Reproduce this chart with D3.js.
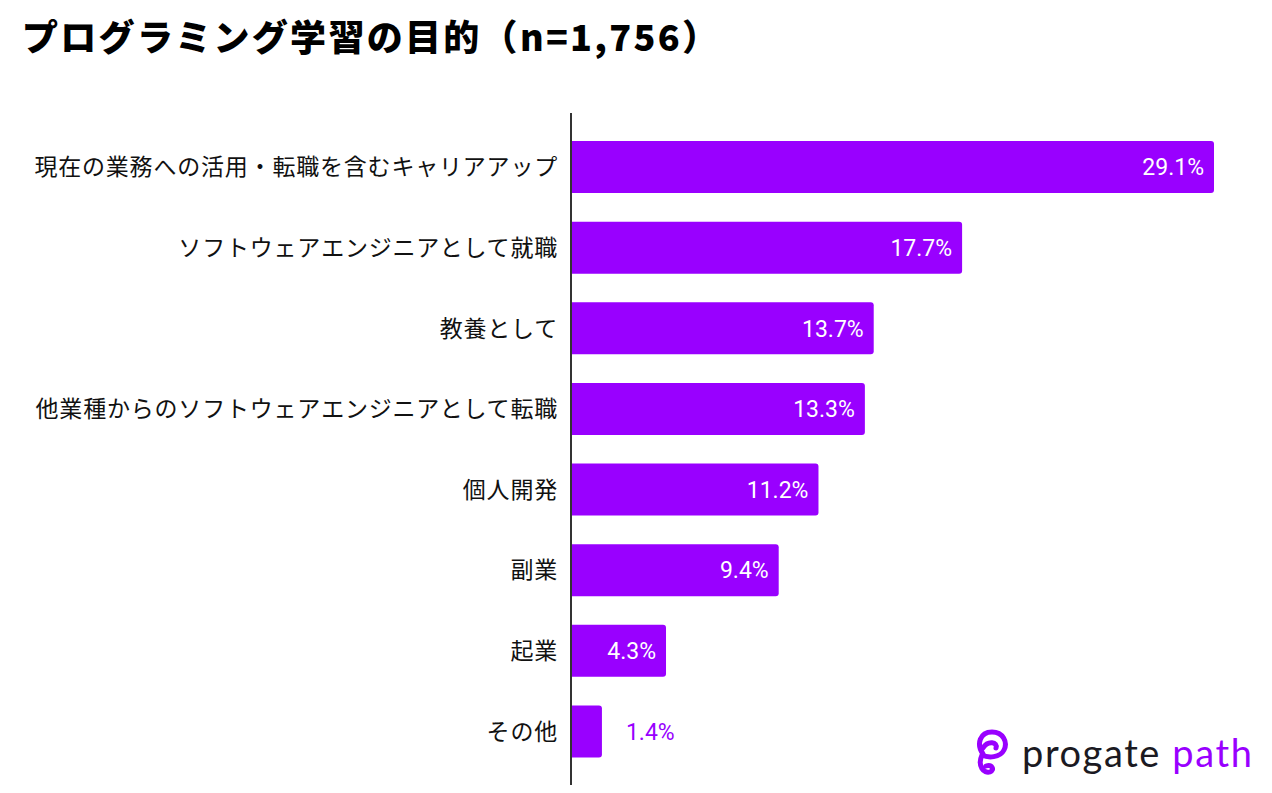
<!DOCTYPE html>
<html>
<head>
<meta charset="utf-8">
<script src="https://cdn.jsdelivr.net/npm/d3@7"></script>
<style>
  body { margin: 0; background: #fff; }
  svg { display: block; }
</style>
</head>
<body>
<svg id="chart" width="1272" height="793"></svg>
<script>
// data
const categories = [
  "現在の業務への活用・転職を含むキャリアアップ",
  "ソフトウェアエンジニアとして就職",
  "教養として",
  "他業種からのソフトウェアエンジニアとして転職",
  "個人開発",
  "副業",
  "起業",
  "その他"
]
const values = [29.1, 17.7, 13.7, 13.3, 11.2, 9.4, 4.3, 1.4]
const titleText = "プログラミング学習の目的（n=1,756）"

const purple = "#9900ff"
const jp = "'Noto Sans CJK JP', 'Noto Sans', sans-serif"

let svg = d3.select("#chart")

const x = d3.scaleLinear()
    .domain([0, 29.1])
    .range([571, 1214])

const y = d3.scaleBand()
    .domain(categories)
    .range([126.7, 771.8])
    .paddingInner(0.355)
    .paddingOuter(0.1775)

// title
svg.append("text")
    .attr("x", 22)
    .attr("y", 51)
    .style("font-family", jp)
    .style("font-weight", 900)
    .style("font-size", "36px")
    .style("letter-spacing", "2.3px")
    .style("fill", "#000")
    .text(titleText)

// bars, square on the left, rounded on the right
const r = 3
let bars = svg.append("g")
    .selectAll("path")
    .data(values)
    .join("path")
    .attr("d", function (d, i) {
        let x0 = x(0), x1 = x(d), y0 = y(categories[i]), h = y.bandwidth()
        return "M" + x0 + "," + y0 +
            "H" + (x1 - r) +
            "Q" + x1 + "," + y0 + " " + x1 + "," + (y0 + r) +
            "V" + (y0 + h - r) +
            "Q" + x1 + "," + (y0 + h) + " " + (x1 - r) + "," + (y0 + h) +
            "H" + x0 + "Z"
    })
    .style("fill", purple)

// category labels
svg.append("g")
    .selectAll("text")
    .data(categories)
    .join("text")
    .attr("x", 558)
    .attr("y", d => y(d) + y.bandwidth() / 2)
    .attr("dy", "0.36em")
    .attr("text-anchor", "end")
    .style("font-family", jp)
    .style("font-size", "23px")
    .style("letter-spacing", "0.8px")
    .style("fill", "#111")
    .text(d => d)

// value labels: inside if the bar is wide enough, else outside in purple
const inside = d => (x(d) - x(0) > 60)
svg.append("g")
    .selectAll("text")
    .data(values)
    .join("text")
    .attr("x", d => inside(d) ? x(d) - 10 : x(d) + 24)
    .attr("y", (d, i) => y(categories[i]) + y.bandwidth() / 2)
    .attr("dy", "0.36em")
    .attr("text-anchor", d => inside(d) ? "end" : "start")
    .style("font-family", "Roboto, sans-serif")
    .style("font-weight", 400)
    .style("font-size", "23px")
    .style("fill", d => inside(d) ? "#fff" : purple)
    .text(d => d.toFixed(1) + "%")

// axis line
svg.append("line")
    .attr("x1", x(0)).attr("x2", x(0))
    .attr("y1", 113).attr("y2", 785)
    .style("stroke", "#333")
    .style("stroke-width", 2)

// logo
let logo = svg.append("g").attr("transform", "translate(974,728)")
logo.append("path")
    .attr("d", "M9,26 C2,16 6,4 18,4 C29,4 34,14 30,22 C26,30 14,30 8,27 C3,38 10,46 16,44 C21,42 18,36 12,38")
    .style("fill", "none")
    .style("stroke", purple)
    .style("stroke-width", 5)
    .style("stroke-linecap", "round")
logo.append("path")
    .attr("d", "M9,20 C14,12 24,14 22,20")
    .style("fill", "none")
    .style("stroke", purple)
    .style("stroke-width", 5)
    .style("stroke-linecap", "round")

let logoText = svg.append("text")
    .attr("x", 1022)
    .attr("y", 767)
    .style("font-family", "Lato, 'Open Sans', sans-serif")
    .style("font-size", "38px")
    .style("letter-spacing", "1.6px")
logoText.append("tspan").style("fill", "#1b1a22").text("progate ")
logoText.append("tspan").style("fill", purple).text("path")
</script>
</body>
</html>
